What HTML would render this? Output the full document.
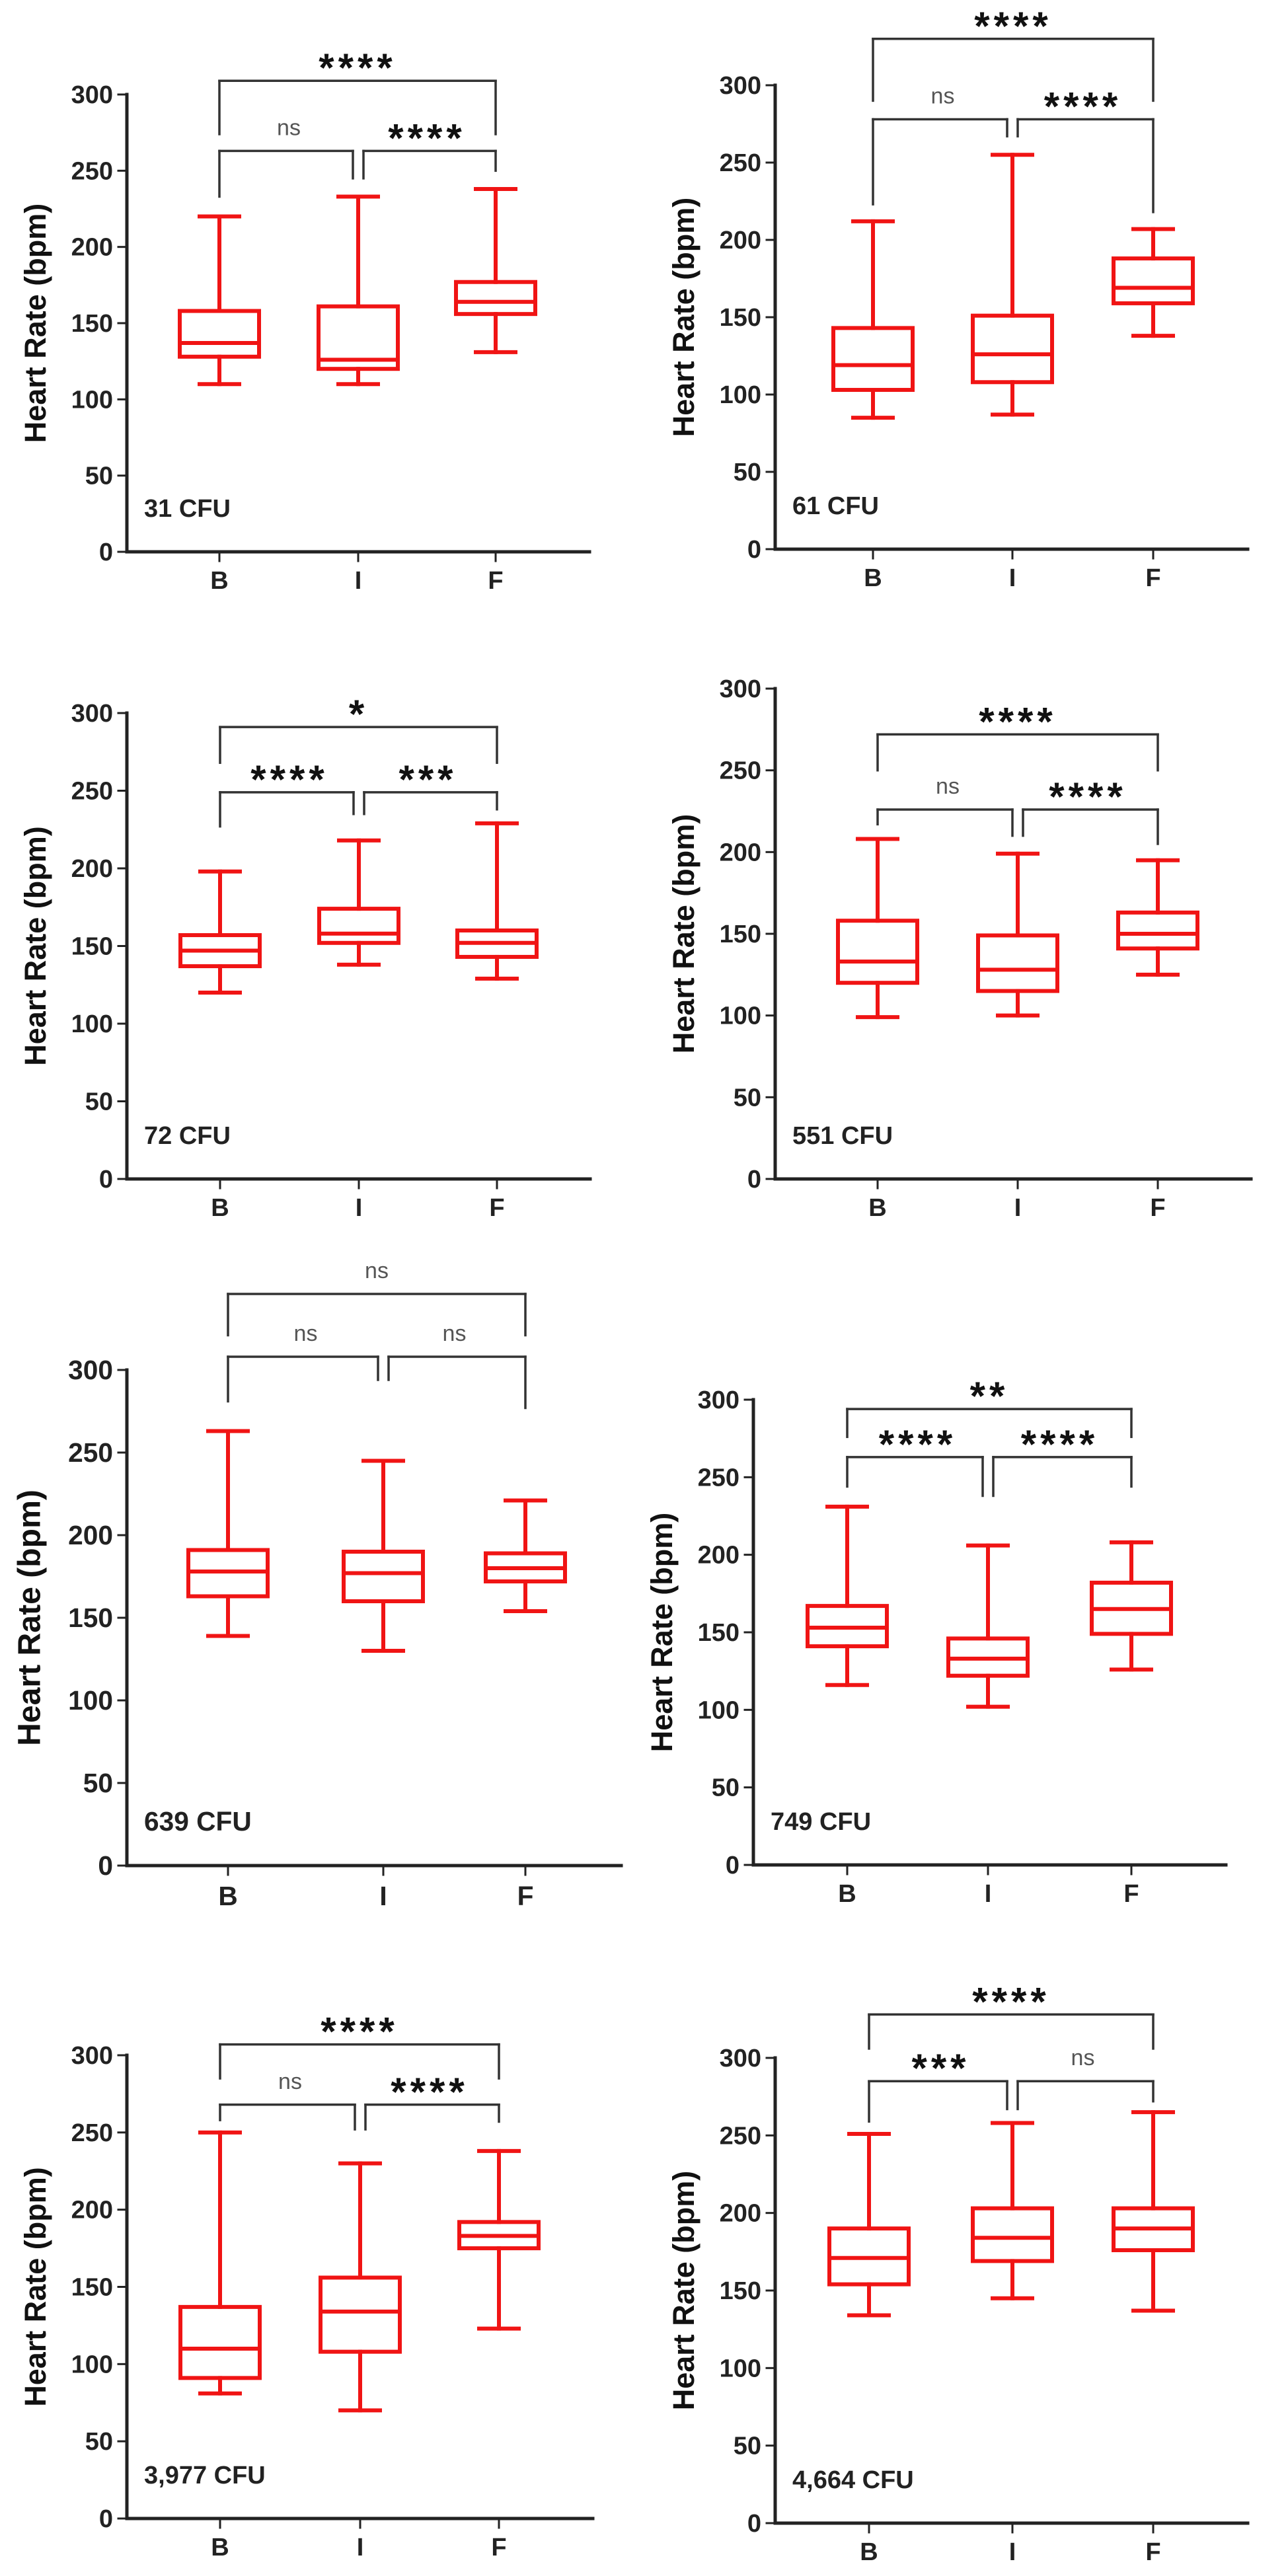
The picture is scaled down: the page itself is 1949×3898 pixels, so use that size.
<!DOCTYPE html>
<html><head><meta charset="utf-8">
<style>
html,body{margin:0;padding:0;background:#fff;}
svg{display:block;}
text{font-family:"Liberation Sans",Arial,sans-serif;}
</style></head>
<body>
<svg id="s" xmlns="http://www.w3.org/2000/svg" width="1949" height="3898" viewBox="0 0 1949 3898"></svg>
<script>
var P=[
{ax:192,y3:143,y0:835,c:[332,542,750],end:892,lab:"31 CFU",
 b:[[110,128,137,158,220],[110,120,126,161,233],[131,156,164,177,238]],
 top:309,tl:274,low:263,legs:[233,245,250],t:["****","ns","****"],k:1},
{ax:1173,y3:129,y0:831,c:[1321,1532,1745],end:1888,lab:"61 CFU",
 b:[[85,103,119,143,212],[87,108,126,151,255],[138,159,169,188,207]],
 top:330,tl:290,low:278,legs:[223,267,218],t:["****","ns","****"],k:1},
{ax:192,y3:1079,y0:1784,c:[333,543,752],end:893,lab:"72 CFU",
 b:[[120,137,147,157,198],[138,152,158,174,218],[129,143,152,160,229]],
 top:291,tl:268,low:249,legs:[227,235,238],t:["*","****","***"],k:1},
{ax:1173,y3:1042,y0:1784,c:[1328,1540,1752],end:1893,lab:"551 CFU",
 b:[[99,120,133,158,208],[100,115,128,149,199],[125,141,150,163,195]],
 top:272,tl:250,low:226,legs:[217,210,205],t:["****","ns","****"],k:1},
{ax:192,y3:2073,y0:2823,c:[345,580,795],end:940,lab:"639 CFU",
 b:[[139,163,178,191,263],[130,160,177,190,245],[154,172,180,189,221]],
 top:346,tl:321,low:308,legs:[281,294,277],t:["ns","ns","ns"],k:1.07},
{ax:1140,y3:2118,y0:2822,c:[1282,1495,1712],end:1855,lab:"749 CFU",
 b:[[116,141,153,167,231],[102,122,133,146,206],[126,149,165,182,208]],
 top:294,tl:276,low:263,legs:[244,238,244],t:["**","****","****"],k:1},
{ax:192,y3:3110,y0:3811,c:[333,545,755],end:897,lab:"3,977 CFU",
 b:[[81,91,110,137,250],[70,108,134,156,230],[123,175,183,192,238]],
 top:307,tl:285,low:268,legs:[258,252,257],t:["****","ns","****"],k:1},
{ax:1173,y3:3114,y0:3818,c:[1315,1532,1745],end:1888,lab:"4,664 CFU",
 b:[[134,154,171,190,251],[145,169,184,203,258],[137,176,190,203,265]],
 top:328,tl:306,low:285,legs:[259,267,272],t:["****","***","ns"],k:1}
];
var h="";
function L(x1,y1,x2,y2,c,w){h+='<line x1="'+x1+'" y1="'+y1+'" x2="'+x2+'" y2="'+y2+'" stroke="'+c+'" stroke-width="'+w+'" stroke-linecap="square"/>';}
function T(x,y,s,sz,anc,col,wt,extra){h+='<text x="'+x+'" y="'+y+'" font-size="'+sz+'" text-anchor="'+anc+'" fill="'+col+'" font-weight="'+wt+'" '+(extra||'')+'>'+s+'</text>';}
function lab(x,yc,s){
  if(s=="ns"){T(x,yc+9,s,34,"middle","#555","normal");}
  else{T(x,yc+34,s,60,"middle","#111","bold",'letter-spacing="6"');}
}
P.forEach(function(p){
  var Y=function(v){return p.y0-(p.y0-p.y3)*v/300;};
  var k=p.k, ax=p.ax;
  L(ax,p.y3,ax,p.y0,"#222",5);
  L(ax,p.y0,p.end,p.y0,"#222",5);
  for(var v=0;v<=300;v+=50){var y=Y(v);L(ax-13,y,ax,y,"#222",3);T(ax-21,y+13*k,v,38*k,"end","#222","bold");}
  p.c.forEach(function(x,i){L(x,p.y0,x,p.y0+14,"#222",3);T(x,p.y0+56*k,["B","I","F"][i],38*k,"middle","#222","bold");});
  var ym=(p.y3+p.y0)/2, lx=ax-135*k;
  T(lx,ym,"Heart Rate (bpm)",45*k,"middle","#111","bold",'transform="rotate(-90 '+lx+' '+ym+')" dominant-baseline="middle"');
  T(ax+26,p.y0-53,p.lab,38*k,"start","#222","bold");
  p.b.forEach(function(d,i){
    var x=p.c[i],hw=60,cw=30,c="#f01414",w=6;
    L(x-cw,Y(d[0]),x+cw,Y(d[0]),c,w);L(x-cw,Y(d[4]),x+cw,Y(d[4]),c,w);
    L(x,Y(d[0]),x,Y(d[1]),c,w);L(x,Y(d[3]),x,Y(d[4]),c,w);
    h+='<rect x="'+(x-hw)+'" y="'+Y(d[3])+'" width="'+(2*hw)+'" height="'+(Y(d[1])-Y(d[3]))+'" fill="none" stroke="'+c+'" stroke-width="'+w+'"/>';
    L(x-hw,Y(d[2]),x+hw,Y(d[2]),c,w);
  });
  var bc="#333",bw=3.5,c=p.c,g=8;
  var yt=Y(p.top),ytl=Y(p.tl);
  L(c[0],yt,c[2],yt,bc,bw);L(c[0],yt,c[0],ytl,bc,bw);L(c[2],yt,c[2],ytl,bc,bw);
  var yl=Y(p.low);
  L(c[0],yl,c[1]-g,yl,bc,bw);L(c[0],yl,c[0],Y(p.legs[0]),bc,bw);L(c[1]-g,yl,c[1]-g,Y(p.legs[1]),bc,bw);
  L(c[1]+g,yl,c[2],yl,bc,bw);L(c[1]+g,yl,c[1]+g,Y(p.legs[1]),bc,bw);L(c[2],yl,c[2],Y(p.legs[2]),bc,bw);
  lab((c[0]+c[2])/2,yt-33,p.t[0]);
  lab((c[0]+c[1])/2,yl-33,p.t[1]);
  lab((c[1]+c[2])/2,yl-33,p.t[2]);
});
document.getElementById("s").innerHTML=h;
</script>
</body></html>
